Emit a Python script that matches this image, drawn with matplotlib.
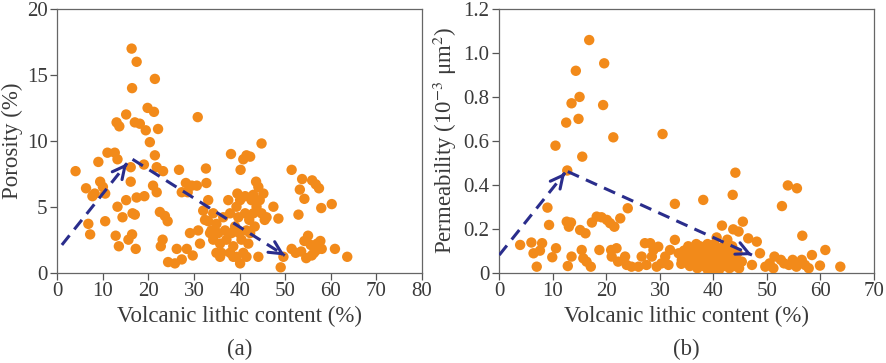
import matplotlib.pyplot as plt
import numpy as np

# panel (a): volcanic lithic content (%) vs porosity (%)
por_x = [4.0, 6.3, 6.8, 7.2, 7.7, 8.2, 9.0, 9.4, 10.0, 10.5, 10.5, 11.0, 12.6, 13.0, 13.6,
         15.1, 13.2, 13.2, 14.3, 15.1, 12.8, 13.5, 15.6, 16.1, 16.3, 17.4, 16.4, 17.0, 18.1,
         16.1, 16.5, 17.0, 16.4, 17.2, 17.4, 19.1, 19.0, 19.4, 19.8, 20.3, 21.2, 21.4, 22.1,
         21.4, 21.8, 21.0, 21.8, 23.2, 22.5, 23.6, 24.2, 23.1, 22.7, 24.3, 25.8, 26.2, 27.3,
         26.7, 27.3, 28.2, 28.6, 29.5, 30.6, 30.8, 28.4, 29.1, 29.7, 30.9, 32.6, 32.7, 33.1,
         32.0, 33.1, 33.5, 38.1, 40.2, 40.8, 41.5, 42.3, 44.8, 47.4, 48.5, 44.1, 40.1, 49.0,
         49.6, 51.4, 51.4, 53.7, 53.2, 54.2, 52.9, 55.9, 56.7, 57.4, 57.9, 60.2, 60.9, 63.6,
         53.5, 54.2, 55.0, 55.6, 56.3, 57.0, 57.7, 58.0, 54.6, 55.8, 52.3, 56.8,
         34.2, 34.9, 35.3, 35.7, 36.0, 36.4, 36.8, 37.1, 37.5, 37.9, 38.2, 38.6, 39.0, 39.3,
         39.7, 39.9, 40.1, 40.4, 40.8, 41.2, 41.5, 41.9, 42.1, 42.3, 42.6, 43.0, 43.3, 43.7,
         44.1, 44.4, 44.8, 45.2, 45.5, 34.9, 35.7, 38.6, 41.5, 37.9, 39.3, 41.2, 39.5, 43.0,
         43.6, 32.4, 33.8, 34.2, 31.3, 45.9]
por_y = [7.7, 6.4, 3.7, 2.9, 5.8, 6.0, 8.4, 6.9, 6.5, 6.0, 3.9, 9.1, 9.1, 11.4, 11.1,
         12.0, 8.6, 5.0, 4.2, 5.5, 2.8, 2.0, 2.5, 8.0, 17.0, 16.0, 14.0, 11.4, 11.3,
         6.9, 4.5, 4.4, 2.9, 1.8, 5.7, 5.8, 8.2, 10.8, 12.5, 9.9, 12.2, 14.7, 10.9,
         8.9, 8.0, 6.6, 6.1, 7.7, 4.6, 4.3, 3.9, 2.5, 2.0, 0.8, 0.7, 1.8, 1.0,
         7.8, 6.1, 6.8, 6.1, 6.6, 6.6, 11.8, 1.8, 3.0, 1.3, 3.2, 7.9, 6.8, 5.5,
         4.7, 3.9, 3.0, 9.0, 7.8, 8.6, 8.9, 8.8, 9.8, 5.0, 4.1, 1.2, 0.7, 0.4,
         1.2, 1.8, 7.8, 7.1, 6.3, 5.6, 4.4, 7.0, 6.7, 6.4, 4.9, 5.2, 1.8, 1.2,
         1.6, 2.4, 2.8, 2.1, 1.5, 2.2, 2.4, 1.8, 1.1, 1.3, 1.5, 1.7,
         4.5, 3.7, 3.0, 2.2, 1.5, 4.2, 3.2, 2.5, 5.5, 4.5, 3.0, 2.0, 3.5, 5.0,
         4.2, 3.0, 5.5, 2.5, 1.5, 4.5, 3.2, 2.2, 4.0, 3.0, 5.5, 4.5, 3.5, 5.0,
         6.5, 5.5, 4.5, 6.0, 4.0, 1.5, 1.2, 1.2, 1.2, 1.5, 1.2, 5.8, 6.0, 5.9,
         6.9, 4.0, 3.2, 2.5, 2.2, 4.2]

# panel (b): volcanic lithic content (%) vs permeability (10^-3 um^2)
perm_x = [3.9, 6.0, 6.4, 7.0, 8.0, 7.6, 9.0, 9.3, 9.9, 10.6, 10.5, 12.5, 13.5, 14.3, 15.0,
          14.8, 15.5, 12.7, 16.8, 19.6, 19.4, 21.3, 30.5, 12.6, 13.4, 13.0, 15.1, 16.1, 17.3,
          18.2, 19.1, 20.1, 20.7, 21.5, 22.6, 24.0, 18.7, 20.9, 21.9, 15.4, 15.7, 16.3, 17.1,
          12.8, 13.5, 21.0, 22.2, 23.5, 23.8, 24.7, 26.6, 27.2, 28.2, 28.5, 28.8, 29.7, 30.3,
          31.0, 31.9, 32.8, 33.5, 34.1, 26.0, 27.5, 29.4, 31.6, 32.8, 38.1, 43.6, 44.1, 41.6,
          43.7, 44.7, 45.5, 46.5, 48.1, 48.7, 47.2, 49.7, 51.4, 52.8, 53.9, 55.6, 56.6, 58.4,
          60.9, 59.9, 63.7, 51.2, 52.6, 53.2, 54.1, 54.8, 55.5, 56.5, 57.1, 57.8, 50.5,
          34.5, 35.0, 35.3, 35.6, 36.0, 36.3, 36.6, 37.0, 37.2, 37.5, 37.8, 38.1, 38.4, 38.7,
          39.0, 39.3, 39.6, 40.0, 40.2, 40.5, 40.8, 41.1, 41.4, 41.7, 42.0, 42.3, 42.6, 42.9,
          43.2, 43.5, 43.8, 44.1, 44.5, 44.8, 45.3, 35.8, 36.8, 38.9, 39.8, 41.9, 43.0, 40.6,
          42.2, 36.2, 34.0, 37.9, 39.0, 41.0]
perm_y = [0.126, 0.137, 0.088, 0.027, 0.134, 0.10, 0.296, 0.217, 0.07, 0.111, 0.578, 0.683,
          0.771, 0.919, 0.80, 0.70, 0.528, 0.465, 1.059, 0.953, 0.763, 0.616, 0.631, 0.232,
          0.228, 0.209, 0.194, 0.179, 0.228, 0.255, 0.252, 0.24, 0.225, 0.209, 0.247, 0.293,
          0.103, 0.103, 0.111, 0.103, 0.065, 0.05, 0.027, 0.03, 0.073, 0.073, 0.05, 0.073,
          0.035, 0.027, 0.073, 0.134, 0.134, 0.073, 0.103, 0.118, 0.042, 0.073, 0.103, 0.149,
          0.088, 0.058, 0.027, 0.035, 0.027, 0.035, 0.313, 0.331, 0.354, 0.455, 0.214, 0.197,
          0.187, 0.232, 0.156, 0.141, 0.088, 0.035, 0.027, 0.073, 0.303, 0.397, 0.384, 0.168,
          0.08, 0.103, 0.032, 0.027, 0.02, 0.058, 0.042, 0.035, 0.058, 0.027, 0.058, 0.035,
          0.02, 0.042,
          0.10, 0.06, 0.12, 0.03, 0.08, 0.11, 0.05, 0.02, 0.09, 0.12, 0.06, 0.03, 0.10, 0.07,
          0.04, 0.11, 0.08, 0.02, 0.13, 0.06, 0.09, 0.04, 0.11, 0.07, 0.03, 0.10, 0.15, 0.05,
          0.08, 0.12, 0.03, 0.06, 0.09, 0.02, 0.05, 0.09, 0.13, 0.13, 0.05, 0.12, 0.02, 0.16,
          0.08, 0.04, 0.04, 0.09, 0.01, 0.01]

# trend arrows (start, end) in data units
por_arrows = [((1.0, 2.1), (15.3, 8.3)), ((16.5, 8.6), (49.9, 1.3))]
perm_arrows = [((0.0, 0.08), (12.3, 0.455)), ((12.8, 0.46), (47.2, 0.08))]

plt.rcParams['font.family'] = ['Liberation Serif', 'DejaVu Serif']
plt.rcParams['mathtext.fontset'] = 'stix'

dot_color = "#F28A1A"
arrow_color = "#2A2D8C"
txt_color = "#3a3a3a"


def style_axes(ax, xmax, ymax, xstep, ystep, ylabel):
    ax.set_xlim(0, xmax)
    ax.set_ylim(0, ymax)
    ax.set_xticks(np.arange(0, xmax + 0.01, xstep))
    ax.set_yticks(np.arange(0, ymax + 0.001, ystep))
    ax.tick_params(direction='out', length=5, width=0.9, colors="#555555",
                   labelcolor=txt_color, labelsize=15, pad=2)
    for s in ax.spines.values():
        s.set_color("#666666")
        s.set_linewidth(0.9)
    ax.set_xlabel("Volcanic lithic content (%)", fontsize=16.5, color=txt_color, labelpad=3)
    ax.set_ylabel(ylabel, fontsize=16.5, color=txt_color, labelpad=3)


def draw_arrows(ax, arrows):
    for (x0, y0), (x1, y1) in arrows:
        ax.plot([x0, x1], [y0, y1], color=arrow_color, lw=2.2,
                dashes=(4, 2.5), zorder=4)
        # solid open head at the end
        ax.annotate("", xy=(x1, y1), xytext=(x1 - (x1 - x0) * 0.02, y1 - (y1 - y0) * 0.02),
                    arrowprops=dict(arrowstyle="->,head_length=0.9,head_width=0.45",
                                    mutation_scale=10, color=arrow_color, lw=2.2,
                                    shrinkA=0, shrinkB=0), zorder=4)


fig = plt.figure(figsize=(8.86, 3.63), dpi=100)
ax1 = fig.add_axes([0.0647, 0.249, 0.4116, 0.726])
ax2 = fig.add_axes([0.5635, 0.249, 0.4230, 0.726])

ax1.scatter(por_x, por_y, s=56, color=dot_color, edgecolors='none', zorder=3)
style_axes(ax1, 80, 20, 10, 5, "Porosity (%)")
draw_arrows(ax1, por_arrows)
ax1.text(0.5, -0.29, "(a)", transform=ax1.transAxes, ha='center', va='center',
         fontsize=16.5, color=txt_color)

ax2.scatter(perm_x, perm_y, s=56, color=dot_color, edgecolors='none', zorder=3)
style_axes(ax2, 70, 1.2, 10, 0.2, r"Permeability (10$^{-3}$ μm$^{2}$)")
ax2.set_yticklabels(["0"] + ["%.1f" % v for v in np.arange(0.2, 1.21, 0.2)])
draw_arrows(ax2, perm_arrows)
ax2.text(0.5, -0.29, "(b)", transform=ax2.transAxes, ha='center', va='center',
         fontsize=16.5, color=txt_color)

fig.savefig("out.png", dpi=100)
